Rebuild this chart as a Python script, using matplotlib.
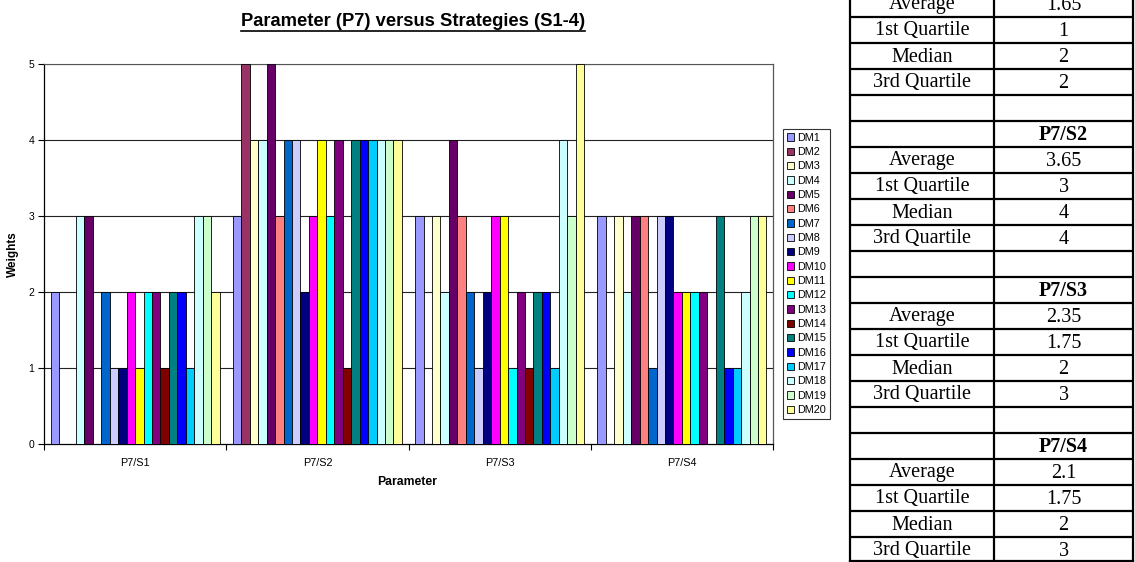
import matplotlib
matplotlib.use("Agg")
import matplotlib.pyplot as plt
import numpy as np

# ---------------- data ----------------
categories = ["P7/S1", "P7/S2", "P7/S3", "P7/S4"]
series_names = ["DM%d" % i for i in range(1, 21)]
# weights per decision maker (rows) for each strategy (columns S1..S4)
dm_values = [
    [2, 3, 3, 3],  # DM1
    [0, 5, 0, 0],  # DM2
    [0, 4, 3, 3],  # DM3
    [3, 4, 2, 2],  # DM4
    [3, 5, 4, 3],  # DM5
    [0, 3, 3, 3],  # DM6
    [2, 4, 2, 1],  # DM7
    [1, 4, 1, 3],  # DM8
    [1, 2, 2, 3],  # DM9
    [2, 3, 3, 2],  # DM10
    [1, 4, 3, 2],  # DM11
    [2, 3, 1, 2],  # DM12
    [2, 4, 2, 2],  # DM13
    [1, 1, 1, 0],  # DM14
    [2, 4, 2, 3],  # DM15
    [2, 4, 2, 1],  # DM16
    [1, 4, 1, 1],  # DM17
    [3, 4, 4, 2],  # DM18
    [3, 4, 3, 3],  # DM19
    [2, 4, 5, 3],  # DM20
]
colors = ["#9999FF", "#993366", "#FFFFCC", "#CCFFFF", "#660066", "#FF8080",
          "#0066CC", "#CCCCFF", "#000080", "#FF00FF", "#FFFF00", "#00FFFF",
          "#800080", "#800000", "#008080", "#0000FF", "#00CCFF", "#CCFFFF",
          "#CCFFCC", "#FFFF99"]
yticks = [0, 1, 2, 3, 4, 5]

# statistics table
stat_labels = ["Average", "1st Quartile", "Median", "3rd Quartile"]
stats_S1 = ["1.65", "1", "2", "2"]
stats_S2 = ["3.65", "3", "4", "4"]
stats_S3 = ["2.35", "1.75", "2", "3"]
stats_S4 = ["2.1", "1.75", "2", "3"]

# ---------------- figure ----------------
W, H = 1135, 562
fig = plt.figure(figsize=(W / 100, H / 100), dpi=100)
fig.patch.set_facecolor("white")
sans = ["Liberation Sans", "DejaVu Sans"]
serif = ["Liberation Serif", "DejaVu Serif"]

def fx(px):
    return px / W

def fy(py):
    return 1 - py / H

ax = fig.add_axes([fx(44), fy(444), fx(773) - fx(44), fy(64) - fy(444)])
n = len(series_names)
bw = 0.0464
x = np.arange(len(categories))
handles = []
for i in range(n):
    vals = dm_values[i]
    b = ax.bar(x + (i - (n - 1) / 2) * bw, vals, width=bw, color=colors[i],
               edgecolor="black", linewidth=0.6, zorder=3, label=series_names[i])
    handles.append(b)

ax.set_xlim(-0.5, len(categories) - 0.5)
ax.set_ylim(0, 5)
ax.set_yticks(yticks)
ax.set_yticklabels([str(v) for v in yticks], fontsize=7.5, family=sans)
ax.set_xticks(x)
ax.set_xticklabels(categories, fontsize=7.8, family=sans)
ax.tick_params(axis="x", length=0, pad=10)
ax.set_xticks(np.arange(len(categories) + 1) - 0.5, minor=True)
ax.tick_params(axis="x", which="minor", length=4, direction="out", width=0.8)
ax.tick_params(axis="y", length=4, direction="out", width=0.8, pad=3)
for v in yticks[1:]:
    ax.axhline(v, color="#222222", linewidth=0.8, zorder=1)
for s in ["left", "bottom"]:
    ax.spines[s].set_color("black")
    ax.spines[s].set_linewidth(0.9)
ax.spines["top"].set_color("#555555")
ax.spines["right"].set_color("#555555")
ax.spines["right"].set_linewidth(0.9)

fig.text(fx(413), fy(21), "Parameter (P7) versus Strategies (S1-4)", ha="center",
         va="center", fontsize=13.2, fontweight="bold", family=sans)
# underline title
t = fig.texts[-1]
fig.canvas.draw()
bb = t.get_window_extent()
fig.add_artist(plt.Line2D([bb.x0 / W, bb.x1 / W], [(bb.y0 - 1) / H, (bb.y0 - 1) / H],
                          transform=fig.transFigure, color="black", linewidth=1.2))

fig.text(fx(13), fy(254), "Weights", rotation=90, ha="center", va="center",
         fontsize=8.5, fontweight="bold", family=sans)
fig.text(fx(407), fy(482), "Parameter", ha="center", va="center",
         fontsize=8.8, fontweight="bold", family=sans)

leg = fig.legend(handles=handles, labels=series_names, loc="upper left",
                 bbox_to_anchor=(fx(783), fy(129)), bbox_transform=fig.transFigure,
                 borderaxespad=0, frameon=True, fancybox=False,
                 handlelength=0.7, handleheight=0.7, handletextpad=0.3,
                 labelspacing=0.40, borderpad=0.35, prop={"family": sans, "size": 7.8})
leg.get_frame().set_edgecolor("black")
leg.get_frame().set_linewidth(0.8)

# ---------------- table ----------------
tab = fig.add_axes([0, 0, 1, 1])
tab.set_xlim(0, W)
tab.set_ylim(H, 0)
tab.axis("off")
tab.patch.set_alpha(0)

xl, xm, xr = 850, 994, 1133
row_h = 26.0
first_line = 17.0
rows = []
for lab, val in zip(stat_labels, stats_S1):
    rows.append((lab, val, False))
for head, st in [("P7/S2", stats_S2), ("P7/S3", stats_S3), ("P7/S4", stats_S4)]:
    rows.append(("", "", False))
    rows.append(("", head, True))
    for lab, val in zip(stat_labels, st):
        rows.append((lab, val, False))

lw = 1.6
for k in range(len(rows)):
    yline = first_line + row_h * k
    if yline < H - 2:
        tab.plot([xl, xr], [yline, yline], color="black", linewidth=lw,
                 solid_capstyle="butt")
tab.plot([xl, xr], [H - 1.5, H - 1.5], color="black", linewidth=lw)
for xv in (xl, xm, xr):
    tab.plot([xv, xv], [0, H], color="black", linewidth=lw)

for k, (lab, val, bold) in enumerate(rows):
    yc = first_line - row_h / 2 + row_h * k + 1
    if lab:
        tab.text((xl + xm) / 2, yc, lab, ha="center", va="center", fontsize=14.5,
                 family=serif)
    if val:
        tab.text((xm + xr) / 2, yc, val, ha="center", va="center", fontsize=14.5,
                 family=serif, fontweight="bold" if bold else "normal")

fig.savefig("out.png", dpi=100, facecolor="white")
